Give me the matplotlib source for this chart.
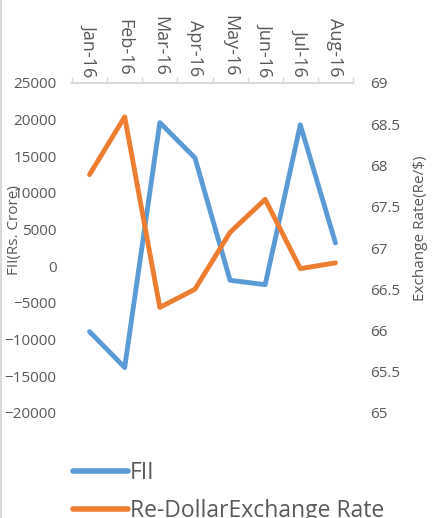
import matplotlib
matplotlib.use("Agg")
import matplotlib.pyplot as plt
from matplotlib.lines import Line2D

months = ["Jan-16", "Feb-16", "Mar-16", "Apr-16", "May-16", "Jun-16", "Jul-16", "Aug-16"]
fii = [-8900, -13800, 19600, 14800, -1900, -2500, 19300, 3200]
exchange_rate = [67.89, 68.59, 66.28, 66.50, 67.19, 67.59, 66.75, 66.82]

blue = "#5B9BD5"
orange = "#ED7D31"
grey = "#595959"

plt.rcParams["font.family"] = ["Open Sans", "DejaVu Sans"]

fig = plt.figure(figsize=(4.33, 5.18), dpi=100)
ax = fig.add_axes([72 / 433, 1 - 413 / 518, 281 / 433, 330 / 518])
ax2 = ax.twinx()

x = list(range(len(months)))
ax.plot(x, fii, color=blue, lw=3.5, solid_capstyle="round", solid_joinstyle="round")
ax2.plot(x, exchange_rate, color=orange, lw=3.5, solid_capstyle="round", solid_joinstyle="round")

ax.set_xlim(-0.5, len(months) - 0.5)
ax.set_ylim(-20000, 25000)
ax.set_yticks(range(-20000, 25001, 5000))
ax2.set_ylim(65, 69)
ax2.set_yticks([65, 65.5, 66, 66.5, 67, 67.5, 68, 68.5, 69])
ax2.set_yticklabels(["65", "65.5", "66", "66.5", "67", "67.5", "68", "68.5", "69"])

# category axis on top
ax.xaxis.tick_top()
ax.set_xticks(x)
ax.set_xticklabels(months, rotation=-90, fontsize=13, color=grey)
ax.set_xticks([i - 0.5 for i in range(len(months) + 1)], minor=True)
ax.tick_params(axis="x", which="major", length=0, pad=5)
ax.tick_params(axis="x", which="minor", length=4, color="#d9d9d9", width=1)

for a in (ax, ax2):
    for s in ("left", "right", "bottom", "top"):
        a.spines[s].set_visible(False)
ax.spines["top"].set_visible(True)
ax.spines["top"].set_color("#d9d9d9")
ax.spines["top"].set_linewidth(1.5)

ax.tick_params(axis="y", length=0, labelsize=11, labelcolor=grey, pad=11)
ax2.tick_params(axis="y", length=0, labelsize=11, labelcolor=grey, pad=12)

ax.set_ylabel("FII(Rs. Crore)", fontsize=11, color=grey)
ax.yaxis.set_label_coords(-0.178, 0.555)
ax2.set_ylabel("Exchange Rate(Re/$)", fontsize=11, color=grey)
ax2.yaxis.set_label_coords(1.214, 0.56)

handles = [Line2D([], [], color=blue, lw=4, solid_capstyle="round"),
           Line2D([], [], color=orange, lw=4, solid_capstyle="round")]
leg = fig.legend(handles, ["FII", "Re-DollarExchange Rate"], loc="upper left",
                 bbox_to_anchor=(52 / 433, 1 - 440 / 518), frameon=False,
                 fontsize=16.5, handlelength=2.4, handletextpad=0.1, labelspacing=0.62)
for t in leg.get_texts():
    t.set_color(grey)

fig.add_artist(Line2D([1 / 433, 1 / 433], [0, 1], color="#d9d9d9", lw=1.5))

fig.savefig("out.png", dpi=100)
